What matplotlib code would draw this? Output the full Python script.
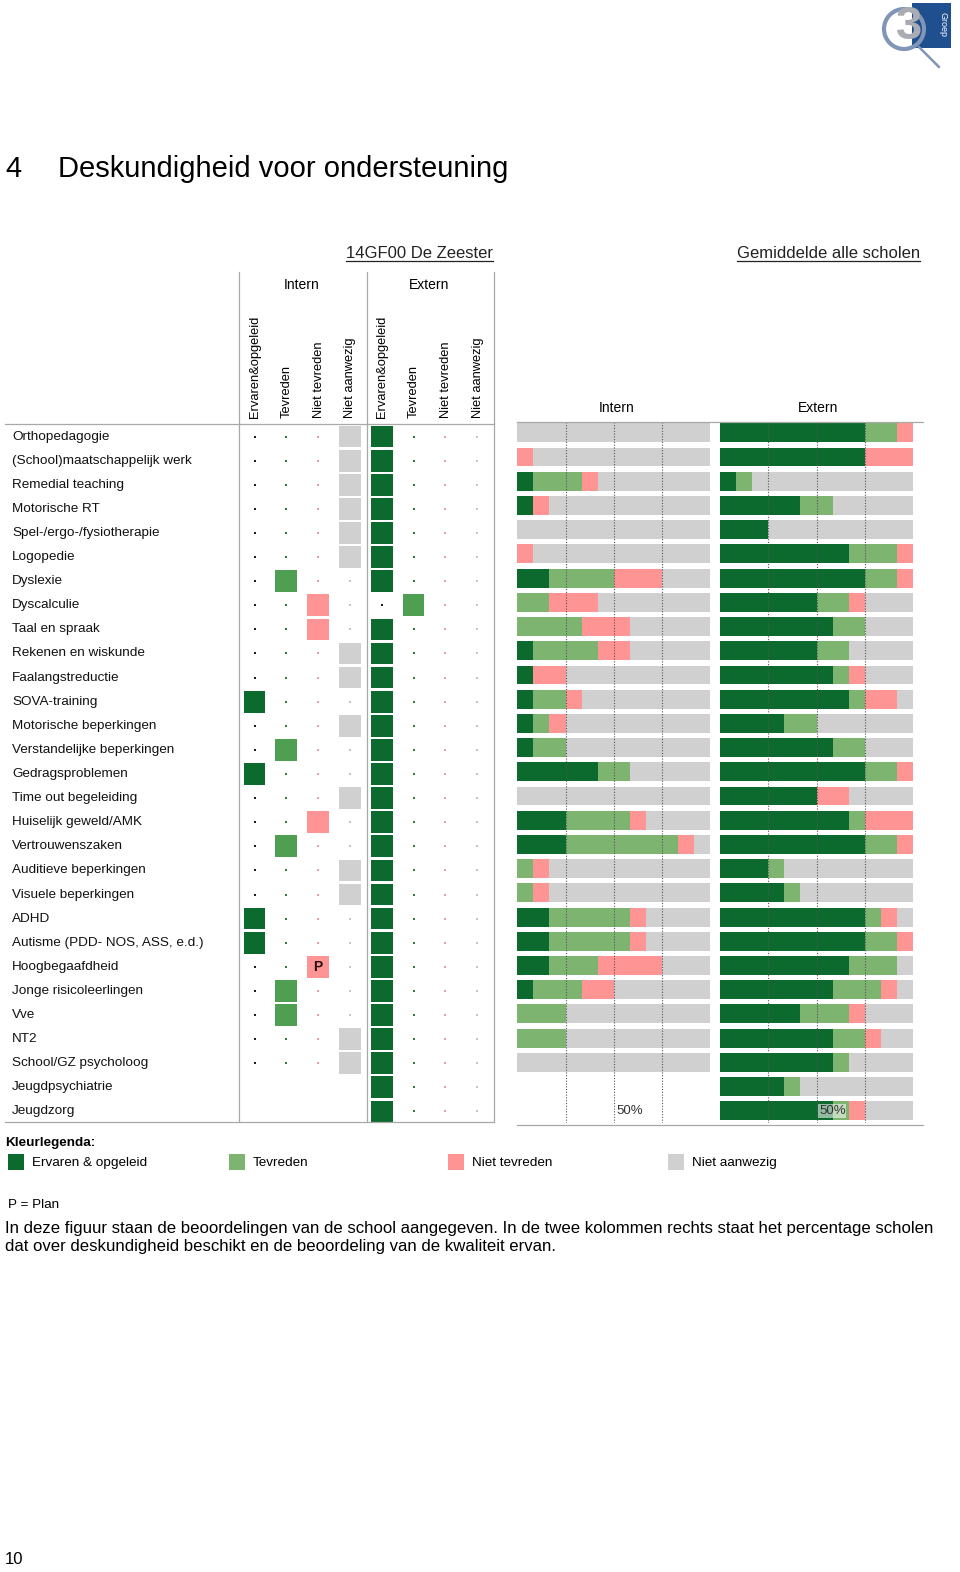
import numpy as np
import matplotlib
matplotlib.use('Agg')
import matplotlib.pyplot as plt
from matplotlib.patches import Rectangle, Circle

W, H = 960, 1572
DPI = 100

plt.rcParams['font.family'] = ['Liberation Sans', 'DejaVu Sans']

# kleuren
DONKER = '#0c6a2f'
GROEN_BALK = '#7db46f'
GROEN_VAK = '#4f9f52'
ROZE = '#ff9494'
GRIJS = '#d0d0d0'

onderdelen = [
    'Orthopedagogie', '(School)maatschappelijk werk', 'Remedial teaching', 'Motorische RT',
    'Spel-/ergo-/fysiotherapie', 'Logopedie', 'Dyslexie', 'Dyscalculie', 'Taal en spraak',
    'Rekenen en wiskunde', 'Faalangstreductie', 'SOVA-training', 'Motorische beperkingen',
    'Verstandelijke beperkingen', 'Gedragsproblemen', 'Time out begeleiding',
    'Huiselijk geweld/AMK', 'Vertrouwenszaken', 'Auditieve beperkingen', 'Visuele beperkingen',
    'ADHD', 'Autisme (PDD- NOS, ASS, e.d.)', 'Hoogbegaafdheid', 'Jonge risicoleerlingen',
    'Vve', 'NT2', 'School/GZ psycholoog', 'Jeugdpsychiatrie', 'Jeugdzorg',
]

kolommen = ['Ervaren&opgeleid', 'Tevreden', 'Niet tevreden', 'Niet aanwezig']

# oordeel van de school: 1=Ervaren&opgeleid, 2=Tevreden, 3=Niet tevreden, 4=Niet aanwezig, 0=leeg
school_intern = [4, 4, 4, 4, 4, 4, 2, 3, 3, 4, 4, 1, 4, 2, 1, 4, 3, 2, 4, 4, 1, 1, 3, 2, 2, 4, 4, 0, 0]
school_extern = [1, 1, 1, 1, 1, 1, 1, 2, 1, 1, 1, 1, 1, 1, 1, 1, 1, 1, 1, 1, 1, 1, 1, 1, 1, 1, 1, 1, 1]
plan_intern = ['' for _ in onderdelen]
plan_intern[22] = 'P'

# gemiddelde alle scholen (aantal scholen, van 12)
aantal_scholen = 12
intern_ervaren = [0, 0, 1, 1, 0, 0, 2, 0, 0, 1, 1, 1, 1, 1, 5, 0, 3, 3, 0, 0, 2, 2, 2, 1, 0, 0, 0, 0, 0]
intern_tevreden = [0, 0, 3, 0, 0, 0, 4, 2, 4, 4, 0, 2, 1, 2, 2, 0, 4, 7, 1, 1, 5, 5, 3, 3, 3, 3, 0, 0, 0]
intern_niet_tevreden = [0, 1, 1, 1, 0, 1, 3, 3, 3, 2, 2, 1, 1, 0, 0, 0, 1, 1, 1, 1, 1, 1, 4, 2, 0, 0, 0, 0, 0]
intern_niet_aanwezig = [12, 11, 7, 10, 12, 11, 3, 7, 5, 5, 9, 8, 9, 9, 5, 12, 4, 1, 10, 10, 4, 4, 3, 6, 9, 9, 12, 0, 0]

extern_ervaren = [9, 9, 1, 5, 3, 8, 9, 6, 7, 6, 7, 8, 4, 7, 9, 6, 8, 9, 3, 4, 9, 9, 8, 7, 5, 7, 7, 4, 7]
extern_tevreden = [2, 0, 1, 2, 0, 3, 2, 2, 2, 2, 1, 1, 2, 2, 2, 0, 1, 2, 1, 1, 1, 2, 3, 3, 3, 2, 1, 1, 1]
extern_niet_tevreden = [1, 3, 0, 0, 0, 1, 1, 1, 0, 0, 1, 2, 0, 0, 1, 2, 3, 1, 0, 0, 1, 1, 0, 1, 1, 1, 0, 0, 1]
extern_niet_aanwezig = [0, 0, 10, 5, 9, 0, 0, 3, 3, 4, 3, 1, 6, 3, 0, 4, 0, 0, 8, 7, 1, 0, 1, 1, 3, 2, 4, 7, 3]

legenda = ['Ervaren & opgeleid', 'Tevreden', 'Niet tevreden', 'Niet aanwezig']


def vak(x0, y0, x1, y1):
    # pixelvak (linksboven als oorsprong) -> figuurfracties
    return [x0 / W, 1 - y1 / H, (x1 - x0) / W, (y1 - y0) / H]


fig = plt.figure(figsize=(W / DPI, H / DPI), dpi=DPI)

n = len(onderdelen)
y = np.arange(n)

# ---------------- raster van de school ----------------
kol_x0 = 254.5
kol_stap = 31.8
ax_rij = fig.add_axes(vak(5, 424.5, 494, 1123.5))
ax_rij.set_xlim((5 - kol_x0) / kol_stap, (494 - kol_x0) / kol_stap)
ax_rij.set_ylim(n - 0.5, -0.5)
ax_rij.axis('off')

vak_kleur = [DONKER, GROEN_VAK, ROZE, GRIJS]
stip_kleur = ['#1a1a1a', '#2f7d3c', '#eaa0a0', '#c4c4c4']
for i in range(n):
    for blok, keuze in ((0, school_intern[i]), (4, school_extern[i])):
        if keuze == 0:
            continue
        for j in range(4):
            x = blok + j
            if keuze == j + 1:
                ax_rij.add_patch(Rectangle((x - 0.34, i - 0.45), 0.68, 0.9,
                                           facecolor=vak_kleur[j], linewidth=0))
            else:
                ax_rij.plot(x, i, 's', ms=1.6, mew=0, color=stip_kleur[j])
    if plan_intern[i]:
        ax_rij.text(school_intern[i] - 1, i, plan_intern[i], ha='center', va='center',
                    fontsize=10, fontweight='bold', color='#2a1010')
    ax_rij.text((12 - kol_x0) / kol_stap, i, onderdelen[i], ha='left', va='center',
                fontsize=9.7, color='#111111')

# ---------------- balken gemiddelde alle scholen ----------------
ax_int = fig.add_axes(vak(517.3, 420.7, 710.3, 1122.9))
ax_ext = fig.add_axes(vak(720, 420.7, 913, 1122.9))


def balken(ax, reeksen, label_bg):
    links = np.zeros(n)
    for waarden, kleur in zip(reeksen, [DONKER, GROEN_BALK, ROZE, GRIJS]):
        waarden = np.array(waarden, dtype=float)
        ax.barh(y, waarden, left=links, height=0.78, color=kleur, linewidth=0)
        links += waarden
    ax.set_xlim(0, aantal_scholen)
    ax.set_ylim(n - 0.5, -0.5)
    for k in (3, 6, 9):
        ax.axvline(k, color='#555555', lw=0.8, ls=(0, (1, 1.5)), zorder=3)
    kw = {}
    if label_bg:
        kw['bbox'] = dict(facecolor='white', alpha=0.55, edgecolor='none', pad=0.6)
    ax.text(6.15, n - 1, '50%', ha='left', va='center', fontsize=9.5, color='#333333',
            zorder=4, **kw)
    ax.axis('off')


balken(ax_int, [intern_ervaren, intern_tevreden, intern_niet_tevreden, intern_niet_aanwezig], False)
balken(ax_ext, [extern_ervaren, extern_tevreden, extern_niet_tevreden, extern_niet_aanwezig], True)

# ---------------- pagina: teksten, lijnen, legenda ----------------
ax = fig.add_axes([0, 0, 1, 1])
ax.set_xlim(0, W)
ax.set_ylim(H, 0)
ax.axis('off')

ax.text(5, 169, '4', fontsize=21, va='center', ha='left')
ax.text(58, 169, 'Deskundigheid voor ondersteuning', fontsize=21, va='center', ha='left')

kop1 = ax.text(493, 254, '14GF00 De Zeester', fontsize=12, ha='right', va='center', color='#222222')
kop2 = ax.text(920, 254, 'Gemiddelde alle scholen', fontsize=12, ha='right', va='center', color='#222222')

ax.text(302, 285, 'Intern', fontsize=10, ha='center', va='center')
ax.text(429, 285, 'Extern', fontsize=10, ha='center', va='center')
ax.text(617, 408, 'Intern', fontsize=10, ha='center', va='center')
ax.text(818, 408, 'Extern', fontsize=10, ha='center', va='center')

for j, kop in enumerate(kolommen + kolommen):
    ax.text(kol_x0 + 0.5 + kol_stap * j, 418, kop, rotation=90, fontsize=9.3,
            ha='center', va='bottom')

lijn = '#a8a8a8'
for xv in (239, 366.7, 494):
    ax.plot([xv, xv], [271.7, 1121.7], color=lijn, lw=0.9)
ax.plot([5, 494], [423.5, 423.5], color=lijn, lw=0.9)
ax.plot([5, 494], [1121.7, 1121.7], color=lijn, lw=0.9)
ax.plot([517, 923], [421.5, 421.5], color=lijn, lw=0.9)
ax.plot([517, 923], [1124.5, 1124.5], color=lijn, lw=0.9)

# legenda
ax.text(5, 1143, 'Kleurlegenda:', fontsize=9.7, fontweight='bold', ha='left', va='center')
for xl, kleur, tekst in zip([8, 229, 448, 668], [DONKER, GROEN_BALK, ROZE, GRIJS], legenda):
    ax.add_patch(Rectangle((xl, 1154), 16, 16, facecolor=kleur, linewidth=0))
    ax.text(xl + 24, 1163, tekst, fontsize=9.7, ha='left', va='center')

ax.text(8, 1205, 'P = Plan', fontsize=9.7, ha='left', va='center')
ax.text(5, 1228, 'In deze figuur staan de beoordelingen van de school aangegeven. In de twee '
        'kolommen rechts staat het percentage scholen', fontsize=12.1, ha='left', va='center')
ax.text(5, 1247, 'dat over deskundigheid beschikt en de beoordeling van de kwaliteit ervan.',
        fontsize=12.1, ha='left', va='center')
ax.text(5, 1559, '10', fontsize=12, ha='left', va='center')

# logo
ax.add_patch(Rectangle((912, 3), 39, 45, facecolor='#1f4f8f', linewidth=0))
ax.add_patch(Circle((904, 29), 20, facecolor='none', edgecolor='#8196b6', linewidth=3))
ax.plot([919, 939], [47, 67], color='#8196b6', lw=1.8, solid_capstyle='round')
ax.text(909, 27, '3', fontsize=34, fontweight='bold', color='#a9acb3', ha='center', va='center')
ax.text(943, 25, 'Groep', fontsize=6.5, color='white', rotation=-90, ha='center', va='center')

# onderstreping van de koppen
fig.canvas.draw()
r = fig.canvas.get_renderer()
inv = ax.transData.inverted()
for t in (kop1, kop2):
    bb = t.get_window_extent(r)
    (xa, ya), (xb, yb) = inv.transform([[bb.x0, bb.y0], [bb.x1, bb.y1]])
    ax.plot([xa, xb], [max(ya, yb) - 1, max(ya, yb) - 1], color='#222222', lw=0.9)

fig.savefig('out.png', dpi=DPI)
plt.close(fig)
